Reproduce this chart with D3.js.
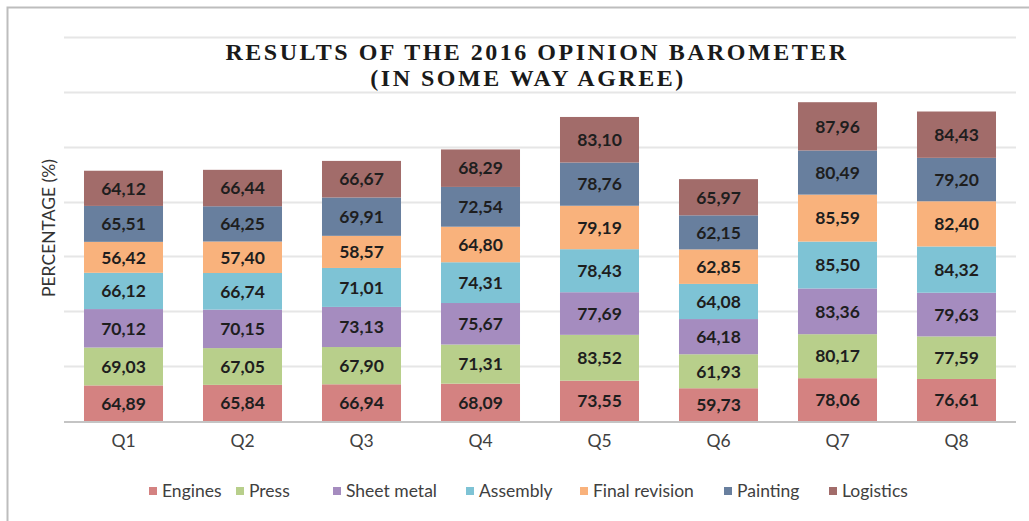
<!DOCTYPE html>
<html>
<head>
<meta charset="utf-8">
<script src="https://cdn.jsdelivr.net/npm/d3@7"></script>
<style>
  html, body { margin: 0; padding: 0; background: #fff; }
  svg { display: block; }
</style>
</head>
<body>
<div id="chart"></div>
<script>
// chart data
const quarters = ['Q1', 'Q2', 'Q3', 'Q4', 'Q5', 'Q6', 'Q7', 'Q8'];
const seriesNames = ['Engines', 'Press', 'Sheet metal', 'Assembly', 'Final revision', 'Painting', 'Logistics'];
const engines = [64.89, 65.84, 66.94, 68.09, 73.55, 59.73, 78.06, 76.61];
const press = [69.03, 67.05, 67.90, 71.31, 83.52, 61.93, 80.17, 77.59];
const sheetMetal = [70.12, 70.15, 73.13, 75.67, 77.69, 64.18, 83.36, 79.63];
const assembly = [66.12, 66.74, 71.01, 74.31, 78.43, 64.08, 85.50, 84.32];
const finalRevision = [56.42, 57.40, 58.57, 64.80, 79.19, 62.85, 85.59, 82.40];
const painting = [65.51, 64.25, 69.91, 72.54, 78.76, 62.15, 80.49, 79.20];
const logistics = [64.12, 66.44, 66.67, 68.29, 83.10, 65.97, 87.96, 84.43];
const gridTicks = [0, 100, 200, 300, 400, 500, 600, 700];

const seriesValues = [engines, press, sheetMetal, assembly, finalRevision, painting, logistics];
const colors = ['#d48281', '#b8cf8b', '#a58cbf', '#7ec3d5', '#f9b27c', '#687f9e', '#a26c6a'];

const width = 1029;
const height = 521;
const margin = { top: 37, right: 13, bottom: 100, left: 64 };
const sans = 'Lato, "Open Sans", sans-serif';

const svg = d3.select('#chart')
  .append('svg')
  .attr('width', width)
  .attr('height', height);

// outer frame (only top/left edges visible in the crop)
svg.append('rect')
  .attr('x', 7.5)
  .attr('y', 7.5)
  .attr('width', width + 20)
  .attr('height', height + 20)
  .attr('fill', 'none')
  .attr('stroke', '#bdbdbd')
  .attr('stroke-width', 2);

// build table for stacking
const table = quarters.map((q, i) => {
  const row = { quarter: q };
  seriesNames.forEach((s, j) => { row[s] = seriesValues[j][i]; });
  return row;
});
const stacked = d3.stack().keys(seriesNames)(table);

const x = d3.scaleBand()
  .domain(quarters)
  .range([margin.left, width - margin.right])
  .paddingInner(0.336)
  .paddingOuter(0.168);

const y = d3.scaleLinear()
  .domain([0, 700])
  .range([height - margin.bottom, margin.top]);

const color = d3.scaleOrdinal().domain(seriesNames).range(colors);

// gridlines
svg.append('g')
  .attr('class', 'grid')
  .selectAll('line')
  .data(gridTicks.filter(d => d > 0))
  .join('line')
  .attr('x1', margin.left)
  .attr('x2', width - margin.right)
  .attr('y1', d => Math.round(y(d)) + 0.5)
  .attr('y2', d => Math.round(y(d)) + 0.5)
  .attr('stroke', '#e6e6e6')
  .attr('stroke-width', 2);

// bars
const layers = svg.append('g')
  .selectAll('g')
  .data(stacked)
  .join('g')
  .attr('fill', d => color(d.key));

layers.selectAll('rect')
  .data(d => d)
  .join('rect')
  .attr('x', d => x(d.data.quarter))
  .attr('y', d => y(d[1]))
  .attr('width', x.bandwidth())
  .attr('height', d => y(d[0]) - y(d[1]));

// value labels
const fmt = d3.formatLocale({ decimal: ',', thousands: '.', grouping: [3], currency: ['', ''] }).format('.2f');

svg.append('g')
  .selectAll('g')
  .data(stacked)
  .join('g')
  .selectAll('text')
  .data(d => d)
  .join('text')
  .attr('x', d => x(d.data.quarter) + x.bandwidth() / 2)
  .attr('y', d => (y(d[0]) + y(d[1])) / 2)
  .attr('dy', '0.36em')
  .attr('text-anchor', 'middle')
  .style('font-family', sans)
  .style('font-weight', 'bold')
  .style('font-size', '17.5px')
  .style('fill', '#1e1e1e')
  .text(d => fmt(d[1] - d[0]));

// baseline
svg.append('line')
  .attr('x1', margin.left)
  .attr('x2', width - margin.right)
  .attr('y1', y(0) + 1)
  .attr('y2', y(0) + 1)
  .attr('stroke', '#c4c4c4')
  .attr('stroke-width', 2);

// x axis labels
const xAxis = d3.axisBottom(x).tickSize(0).tickPadding(12);
const xg = svg.append('g')
  .attr('transform', `translate(0,${y(0) + 2})`)
  .call(xAxis);
xg.select('.domain').remove();
xg.selectAll('text')
  .style('font-family', sans)
  .style('font-size', '17.5px')
  .style('fill', '#404040');

// y axis title
svg.append('text')
  .attr('transform', 'rotate(-90)')
  .attr('x', -228)
  .attr('y', 55)
  .attr('text-anchor', 'middle')
  .style('font-family', sans)
  .style('font-size', '17.5px')
  .style('fill', '#333')
  .text('PERCENTAGE (%)');

// title, two separate lines
const titleLines = ['RESULTS OF THE 2016 OPINION BAROMETER', '(IN SOME WAY AGREE)'];
svg.append('g')
  .selectAll('text')
  .data(titleLines)
  .join('text')
  .attr('x', (d, i) => i === 0 ? 537 : 528)
  .attr('y', (d, i) => i === 0 ? 60 : 86)
  .attr('text-anchor', 'middle')
  .style('font-family', '"Liberation Serif", "DejaVu Serif", serif')
  .style('font-weight', 'bold')
  .style('font-size', '24px')
  .style('fill', '#1a1a1a')
  .style('letter-spacing', '2.5px')
  .text(d => d);

// legend
const legendX = [149, 236, 333, 466, 580, 724, 829];
const legend = svg.append('g')
  .selectAll('g')
  .data(seriesNames)
  .join('g')
  .attr('transform', (d, i) => `translate(${legendX[i]},491)`);

legend.append('rect')
  .attr('x', 0)
  .attr('y', -4)
  .attr('width', 8)
  .attr('height', 8)
  .attr('fill', d => color(d));

legend.append('text')
  .attr('x', 13)
  .attr('y', 0)
  .attr('dy', '0.35em')
  .style('font-family', sans)
  .style('font-size', '17.5px')
  .style('fill', '#404040')
  .text(d => d);
</script>
</body>
</html>
